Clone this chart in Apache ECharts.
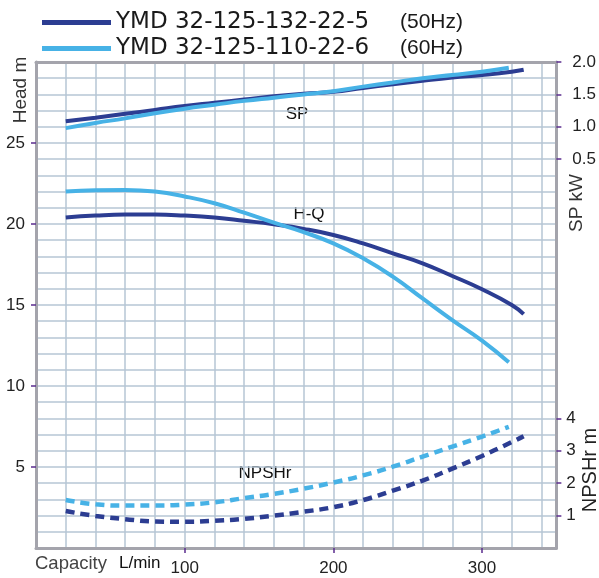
<!DOCTYPE html>
<html>
<head>
<meta charset="utf-8">
<script src="https://cdn.jsdelivr.net/npm/echarts@6/dist/echarts.min.js"></script>
<style>
  html, body { margin: 0; padding: 0; background: #fff; }
  #chart { width: 599px; height: 578px; }
</style>
</head>
<body>
<div id="chart"></div>
<script>
  // model names and frequencies
  var modelNames = ['YMD 32-125-132-22-5', 'YMD 32-125-110-22-6'];
  var modelHz = ['(50Hz)', '(60Hz)'];

  // capacity points (L/min)
  var flow50 = [20, 40, 60, 80, 100, 120, 140, 160, 180, 200, 220, 240, 260, 280, 300, 320, 328];
  var flow60 = [20, 40, 60, 80, 100, 120, 140, 160, 180, 200, 220, 240, 260, 280, 300, 318];

  // head (m)
  var head50 = [20.4, 20.52, 20.58, 20.58, 20.52, 20.4, 20.2, 19.98, 19.7, 19.32, 18.8, 18.19, 17.57, 16.79, 15.97, 15.0, 14.44];
  var head60 = [22.0, 22.08, 22.1, 22.0, 21.7, 21.28, 20.7, 20.08, 19.5, 18.8, 17.88, 16.75, 15.41, 14.07, 12.8, 11.46];

  // shaft power (kW)
  var sp50 = [1.085, 1.14, 1.2, 1.26, 1.32, 1.37, 1.42, 1.47, 1.51, 1.54, 1.6, 1.655, 1.71, 1.76, 1.8, 1.85, 1.88];
  var sp60 = [0.98, 1.06, 1.13, 1.21, 1.28, 1.34, 1.4, 1.45, 1.5, 1.55, 1.62, 1.685, 1.75, 1.8, 1.85, 1.91];

  // NPSHr (m)
  var npsh50 = [1.14, 0.99, 0.89, 0.82, 0.81, 0.84, 0.9, 1.0, 1.12, 1.26, 1.48, 1.77, 2.08, 2.45, 2.84, 3.27, 3.45];
  var npsh60 = [1.48, 1.35, 1.31, 1.31, 1.34, 1.41, 1.54, 1.67, 1.83, 2.02, 2.24, 2.51, 2.82, 3.13, 3.44, 3.74];

  // tick labels
  var capacityTicks = [100, 200, 300];
  var headTicks = [5, 10, 15, 20, 25];
  var spTicks = [0.5, 1.0, 1.5, 2.0];
  var npshTicks = [1, 2, 3, 4];

  var darkBlue = '#2c3d92';
  var lightBlue = '#47b2e6';
  var axisGray = '#a4a4ac';
  var tickPurple = '#5b2d8e';
  var gridColor = '#b6c6d4';
  var font = 'Liberation Sans, Arial, sans-serif';

  function pairs(xs, ys) {
    return xs.map(function (x, i) { return [x, ys[i]]; });
  }

  function curve(name, color, yIndex, xs, ys, dashed) {
    return {
      name: name,
      type: 'line',
      xAxisIndex: 0,
      yAxisIndex: yIndex,
      smooth: true,
      showSymbol: false,
      silent: true,
      z: 3,
      data: pairs(xs, ys),
      lineStyle: {
        color: color,
        width: dashed ? 4.5 : 4,
        type: dashed ? [9, 6] : 'solid',
        cap: 'butt'
      },
      itemStyle: { color: color }
    };
  }

  var tickStyle = { show: true, length: 5, lineStyle: { color: tickPurple, width: 1.5 } };
  var lineGray = { show: true, onZero: false, lineStyle: { color: axisGray, width: 3 } };
  var noLine = { show: false, onZero: false };
  var labelStyle = { fontFamily: font, fontSize: 17, color: '#222' };
  var gridLine = { show: true, lineStyle: { color: gridColor, width: 1.5 } };

  var chart = echarts.init(document.getElementById('chart'));

  var option = {
    animation: false,
    backgroundColor: '#fff',
    grid: { left: 36, right: 42, top: 62, bottom: 30 },
    legend: {
      orient: 'vertical',
      left: 37,
      top: 6,
      itemWidth: 69,
      itemHeight: 5,
      itemGap: 3,
      icon: 'rect',
      selectedMode: false,
      data: [
        { name: modelNames[0], itemStyle: { color: darkBlue } },
        { name: modelNames[1], itemStyle: { color: lightBlue } }
      ],
      formatter: function (name) {
        return '{n|' + name + '}{h|' + modelHz[modelNames.indexOf(name)] + '}';
      },
      textStyle: {
        rich: {
          n: { fontFamily: 'DejaVu Sans', fontSize: 23, width: 284, lineHeight: 27, color: '#1a1a1a' },
          h: { fontFamily: font, fontSize: 21, lineHeight: 27, color: '#1a1a1a' }
        }
      }
    },
    xAxis: [
      {
        // capacity axis with labelled ticks
        type: 'value', min: 0, max: 350, interval: 20, position: 'bottom', z: 4,
        axisLine: lineGray,
        axisTick: Object.assign({ customValues: capacityTicks }, tickStyle),
        axisLabel: Object.assign({ customValues: capacityTicks, margin: 12 }, labelStyle),
        splitLine: { show: false }
      },
      {
        // top frame line
        type: 'value', min: 0, max: 350, position: 'top', z: 4,
        axisLine: lineGray, axisTick: { show: false }, axisLabel: { show: false }, splitLine: { show: false }
      },
      {
        // vertical grid every 20 L/min
        type: 'value', min: 0, max: 350, interval: 20, position: 'bottom', z: 1,
        axisLine: noLine, axisTick: { show: false }, axisLabel: { show: false }, splitLine: gridLine
      }
    ],
    yAxis: [
      {
        type: 'value', min: 0, max: 30, interval: 1, position: 'left', z: 4,
        axisLine: lineGray,
        axisTick: Object.assign({ customValues: headTicks }, tickStyle),
        axisLabel: Object.assign({ customValues: headTicks, margin: 11 }, labelStyle),
        splitLine: { show: false }
      },
      {
        type: 'value', min: -5.5, max: 2, position: 'right', z: 4,
        axisLine: lineGray,
        axisTick: Object.assign({ customValues: spTicks }, tickStyle),
        axisLabel: Object.assign({
          customValues: spTicks, margin: 16,
          formatter: function (v) { return v.toFixed(1); }
        }, labelStyle),
        splitLine: { show: false }
      },
      {
        type: 'value', min: 0, max: 15, position: 'right', z: 4,
        axisLine: noLine,
        axisTick: Object.assign({ customValues: npshTicks }, tickStyle),
        axisLabel: Object.assign({ customValues: npshTicks, margin: 10 }, labelStyle),
        splitLine: { show: false }
      },
      {
        // horizontal grid every 1 m head
        type: 'value', min: 0, max: 30, interval: 1, position: 'left', z: 1,
        axisLine: noLine, axisTick: { show: false }, axisLabel: { show: false }, splitLine: gridLine
      }
    ],
    graphic: [
      { type: 'text', x: 21, y: 90, rotation: Math.PI / 2,
        style: { text: 'Head m', font: '19px ' + font, fill: '#333', align: 'center', verticalAlign: 'middle' } },
      { type: 'text', x: 577, y: 203, rotation: Math.PI / 2,
        style: { text: 'SP kW', font: '19px ' + font, fill: '#333', align: 'center', verticalAlign: 'middle' } },
      { type: 'text', x: 590, y: 470, rotation: Math.PI / 2,
        style: { text: 'NPSHr m', font: '20px ' + font, fill: '#222', align: 'center', verticalAlign: 'middle' } },
      { type: 'text', x: 35, y: 564,
        style: { text: 'Capacity', font: '18.5px ' + font, fill: '#444', align: 'left', verticalAlign: 'middle' } },
      { type: 'text', x: 119, y: 563,
        style: { text: 'L/min', font: '17px ' + font, fill: '#111', align: 'left', verticalAlign: 'middle' } },
      { type: 'text', x: 297, y: 114,
        style: { text: 'SP', font: '17px ' + font, fill: '#111', align: 'center', verticalAlign: 'middle' } },
      { type: 'text', x: 309, y: 214,
        style: { text: 'H-Q', font: '17px ' + font, fill: '#111', align: 'center', verticalAlign: 'middle' } },
      { type: 'text', x: 265, y: 473,
        style: { text: 'NPSHr', font: '17px ' + font, fill: '#111', align: 'center', verticalAlign: 'middle' } }
    ],
    series: [
      curve(modelNames[0], darkBlue, 0, flow50, head50, false),
      curve(modelNames[0], darkBlue, 1, flow50, sp50, false),
      curve(modelNames[0], darkBlue, 2, flow50, npsh50, true),
      curve(modelNames[1], lightBlue, 0, flow60, head60, false),
      curve(modelNames[1], lightBlue, 1, flow60, sp60, false),
      curve(modelNames[1], lightBlue, 2, flow60, npsh60, true)
    ]
  };

  chart.setOption(option);
</script>
</body>
</html>
